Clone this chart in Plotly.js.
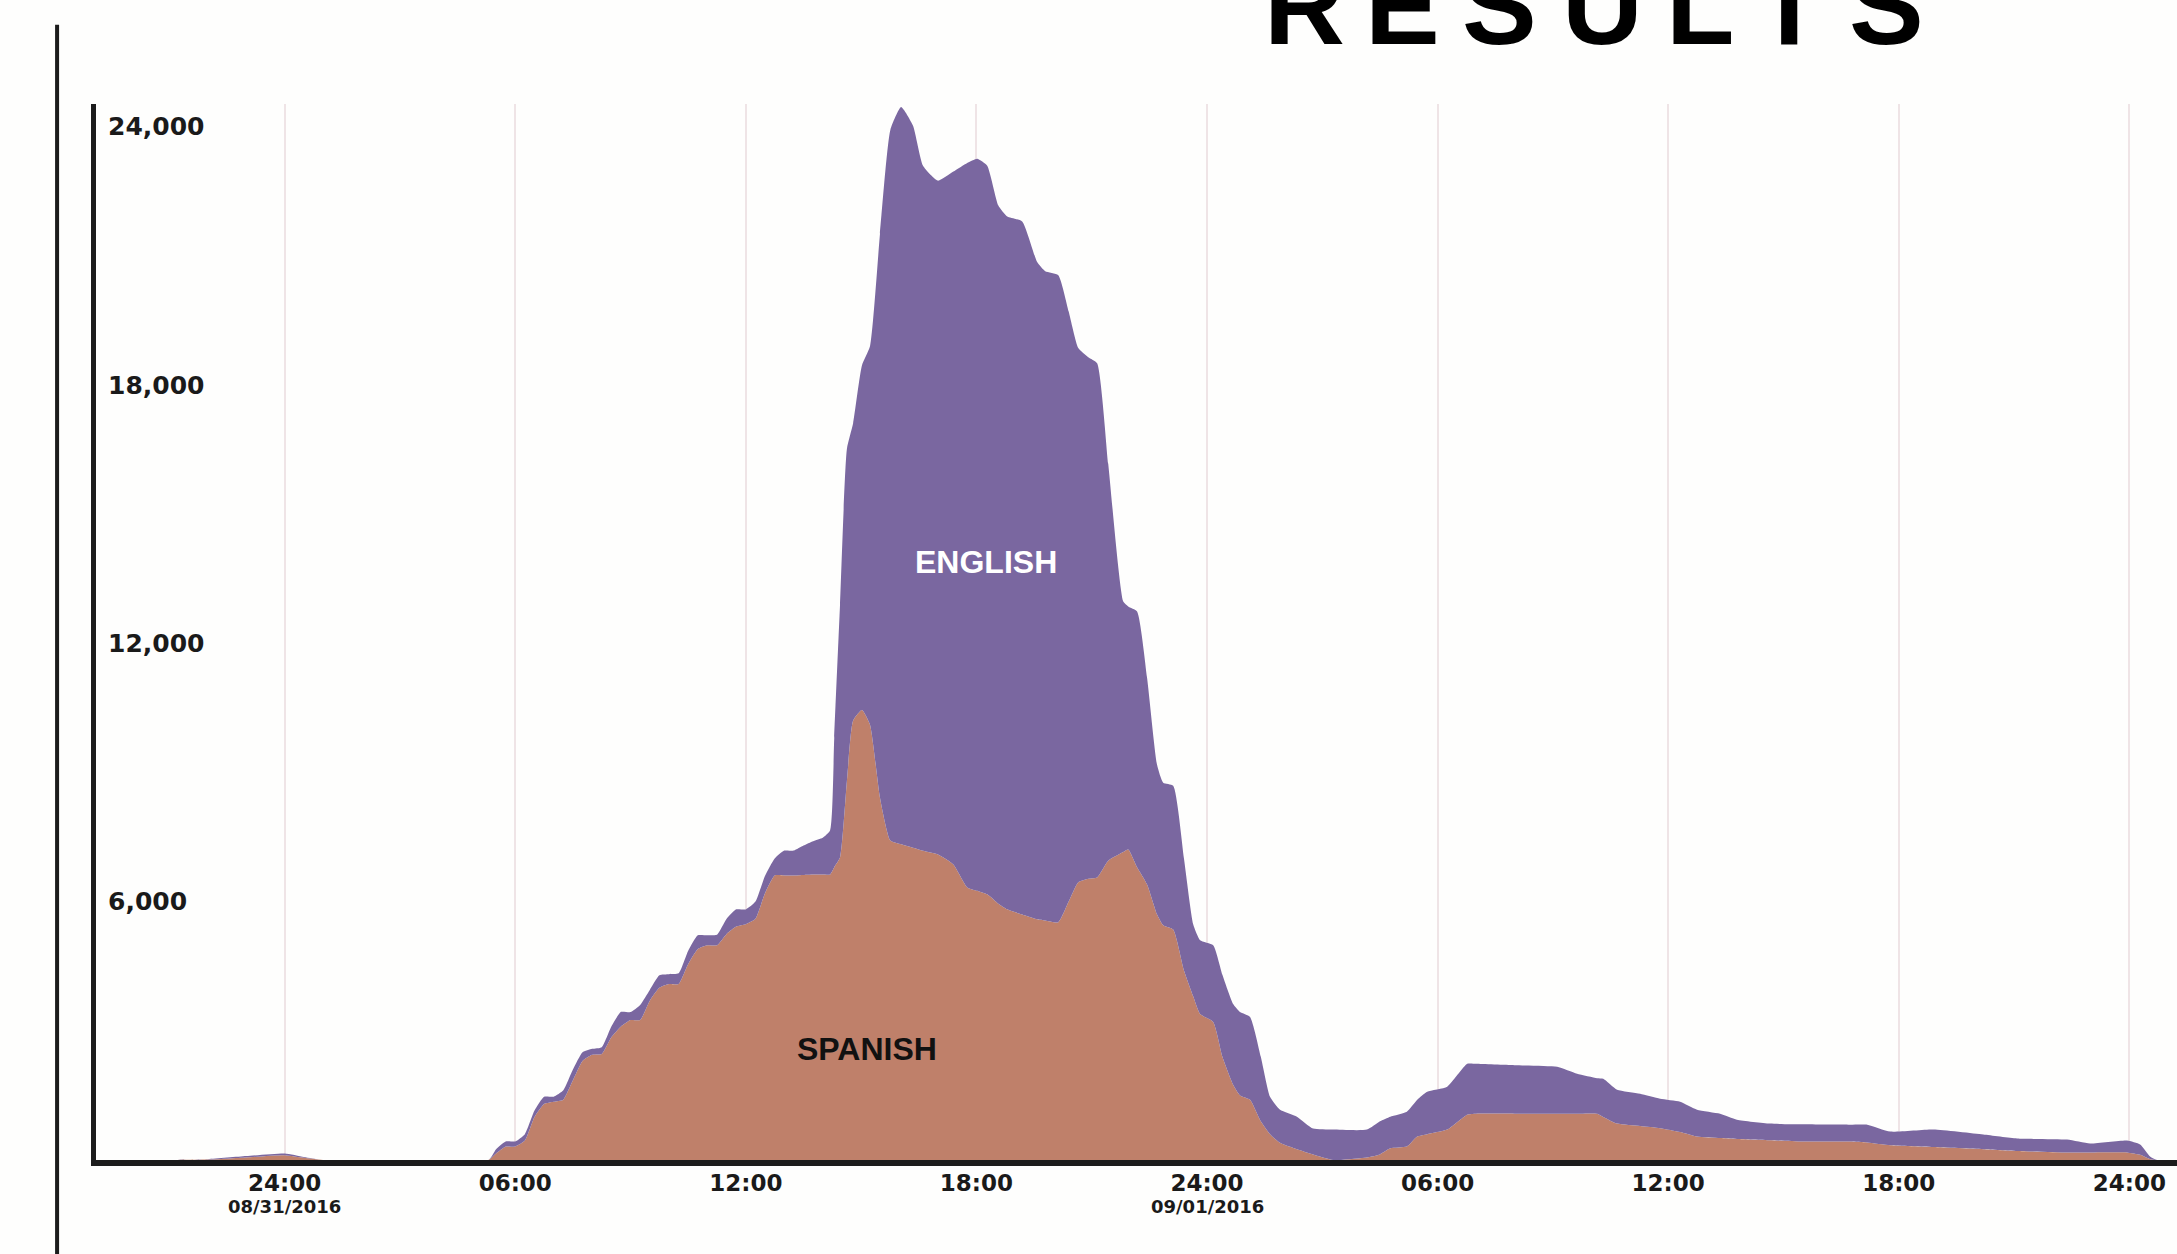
<!DOCTYPE html>
<html><head><meta charset="utf-8">
<script src="https://cdn.plot.ly/plotly-3.0.1.min.js"></script>
<style>html,body{margin:0;padding:0;background:#fefefd;} #chart{width:2177px;height:1254px;}</style>
</head><body><div id="chart"></div>
<script>
// hours since the first "24:00" tick (08/31/2016)
const hours = [-4.91, -3, -2, -1, 0, 0.5, 1, 5.3, 5.5, 5.75, 6, 6.25, 6.5, 6.75, 7, 7.25, 7.5, 7.75, 8, 8.25, 8.5, 8.75, 9, 9.25, 9.5, 9.75, 10, 10.25, 10.5, 10.75, 11, 11.25, 11.5, 11.75, 12, 12.25, 12.5, 12.75, 13, 13.25, 13.5, 13.75, 14, 14.19, 14.3, 14.45, 14.63, 14.79, 15.02, 15.23, 15.49, 15.76, 16.04, 16.35, 16.61, 17, 17.4, 17.76, 18.02, 18.28, 18.57, 18.8, 19.19, 19.58, 19.79, 20.13, 20.4, 20.65, 20.91, 21.14, 21.43, 21.82, 21.95, 22.18, 22.44, 22.7, 22.86, 23.12, 23.4, 23.64, 23.82, 24.16, 24.4, 24.68, 24.86, 25.12, 25.4, 25.64, 25.9, 26.34, 26.76, 27.28, 28.16, 28.5, 28.77, 29.2, 29.47, 29.73, 30.25, 30.77, 31, 32, 33.11, 33.63, 34.15, 34.31, 34.67, 35.27, 35.79, 36.31, 36.75, 37.35, 37.79, 38.65, 39.5, 40.73, 41.18, 41.78, 42.9, 44.2, 45.08, 46.38, 46.98, 47.94, 48.28, 48.54, 48.72, 49.24];

const spanish = [0, 0, 10, 60, 110, 50, 0, 0, 150, 312, 312, 450, 1000, 1300, 1351, 1400, 1850, 2300, 2441, 2460, 2850, 3100, 3251, 3251, 3700, 4000, 4084, 4084, 4550, 4900, 4987, 4987, 5250, 5420, 5473, 5600, 6200, 6607, 6607, 6607, 6620, 6630, 6630, 6630, 6800, 7023, 8805, 10199, 10447, 10106, 8412, 7417, 7330, 7250, 7180, 7093, 6862, 6330, 6250, 6168, 5950, 5820, 5700, 5589, 5560, 5519, 6000, 6450, 6530, 6560, 6950, 7150, 7208, 6800, 6398, 5700, 5450, 5350, 4400, 3800, 3390, 3205, 2400, 1750, 1500, 1400, 900, 600, 400, 250, 127, 0, 60, 130, 270, 312, 544, 600, 706, 1053, 1076, 1076, 1076, 1076, 1076, 1000, 845, 790, 740, 650, 544, 510, 490, 460, 428, 428, 405, 340, 300, 250, 210, 174, 174, 174, 120, 20, 0, 0];

const english = [0, 0, 10, 30, 40, 20, 0, 0, 100, 120, 120, 150, 150, 170, 120, 220, 250, 200, 140, 160, 250, 340, 185, 350, 250, 290, 230, 250, 310, 320, 230, 245, 350, 400, 346, 400, 400, 393, 578, 578, 680, 770, 850, 1018, 3000, 5858, 7709, 6901, 8003, 8788, 13088, 16498, 17118, 16764, 15908, 15648, 16088, 16820, 17000, 16920, 16213, 16088, 16093, 15261, 15076, 15024, 13700, 12404, 12110, 11940, 9213, 5820, 5646, 5938, 4802, 3475, 3309, 3340, 2600, 1673, 1713, 1782, 1900, 1871, 1936, 1921, 1500, 869, 769, 757, 602, 706, 646, 770, 737, 810, 856, 985, 995, 1180, 1157, 1124, 1088, 926, 824, 886, 786, 749, 683, 704, 625, 566, 447, 385, 402, 393, 416, 319, 406, 340, 288, 300, 208, 277, 239, 61, 0, 0];

const tickHours = [0, 6, 12, 18, 24, 30, 36, 42, 48];
const tickLabels = ['24:00', '06:00', '12:00', '18:00', '24:00', '06:00', '12:00', '18:00', '24:00'];
const dateHours = [0, 24];
const dateLabels = ['08/31/2016', '09/01/2016'];
const yTicks = [6000, 12000, 18000, 24000];
const yTickLabels = ['6,000', '12,000', '18,000', '24,000'];
const seriesNames = ['SPANISH', 'ENGLISH'];
const seriesLabelPos = [[15.15, 2566], [18.25, 13885]];
const titleText = 'RESULTS';

const colors = {spanish: '#bf806a', english: '#7a67a0', ink: '#1c1c1c', grid: '#efe4e6', bg: '#fefefd'};

const traces = [
  {x: hours, y: spanish, name: seriesNames[0], type: 'scatter', mode: 'lines', stackgroup: 'lang',
   line: {width: 0, color: colors.spanish, shape: 'spline', smoothing: 0.5}, fillcolor: colors.spanish, hoverinfo: 'skip'},
  {x: hours, y: english, name: seriesNames[1], type: 'scatter', mode: 'lines', stackgroup: 'lang',
   line: {width: 0, color: colors.english, shape: 'spline', smoothing: 0.5}, fillcolor: colors.english, hoverinfo: 'skip'}
];

const annotations = [
  {x: seriesLabelPos[0][0], y: seriesLabelPos[0][1], xref: 'x', yref: 'y', text: seriesNames[0], showarrow: false,
   font: {family: 'Liberation Sans, Arial, sans-serif', size: 32, weight: 'bold', color: '#111'}},
  {x: seriesLabelPos[1][0], y: seriesLabelPos[1][1], xref: 'x', yref: 'y', text: seriesNames[1], showarrow: false,
   font: {family: 'Liberation Sans, Arial, sans-serif', size: 32, weight: 'bold', color: '#ffffff'}}
];
// title letters, spaced widely as in the reference (pixel centres of each letter)
const titleLetterX = [1304, 1402, 1499, 1602, 1700, 1789, 1886];
titleText.split('').forEach((ch, i) => annotations.push({
  x: (titleLetterX[i] - 96) / 2081, y: 1.093, xref: 'paper', yref: 'paper', text: ch, showarrow: false,
  xanchor: 'center', yanchor: 'middle',
  font: {family: 'Liberation Sans, Arial, sans-serif', size: 112, weight: 'bold', color: '#000'}
}));
dateHours.forEach((h, i) => annotations.push({
  x: h, y: -0.0445, xref: 'x', yref: 'paper', text: dateLabels[i], showarrow: false, xanchor: 'center', yanchor: 'middle',
  font: {family: 'DejaVu Sans, sans-serif', size: 18, weight: 'bold', color: '#1a1a1a'}
}));

const layout = {
  width: 2177, height: 1254,
  margin: {l: 96, r: 0, t: 104, b: 94, pad: 0},
  paper_bgcolor: colors.bg, plot_bgcolor: colors.bg,
  showlegend: false,
  xaxis: {
    range: [-4.91, 49.24], tickmode: 'array', tickvals: tickHours, ticktext: tickLabels,
    showgrid: true, gridcolor: colors.grid, gridwidth: 2, zeroline: false,
    showline: true, linecolor: colors.ink, linewidth: 6, ticks: '', ticklabelstandoff: -3,
    tickfont: {family: 'DejaVu Sans, sans-serif', size: 23, weight: 'bold', color: '#1a1a1a'}
  },
  yaxis: {
    range: [0, 24520], tickmode: 'array', tickvals: yTicks, ticktext: yTickLabels,
    showgrid: false, zeroline: false, showline: true, linecolor: colors.ink, linewidth: 5, ticks: '',
    ticklabelposition: 'inside', ticklabelstandoff: 14,
    tickfont: {family: 'DejaVu Sans, sans-serif', size: 25, weight: 'bold', color: '#1a1a1a'}
  },
  annotations: annotations,
  shapes: [
    {type: 'line', xref: 'paper', yref: 'paper', x0: -0.0187, x1: -0.0187, y0: 1.075, y1: -0.09,
     line: {color: colors.ink, width: 4}}
  ]
};

Plotly.newPlot('chart', traces, layout, {displayModeBar: false, staticPlot: true});
</script>
</body></html>
